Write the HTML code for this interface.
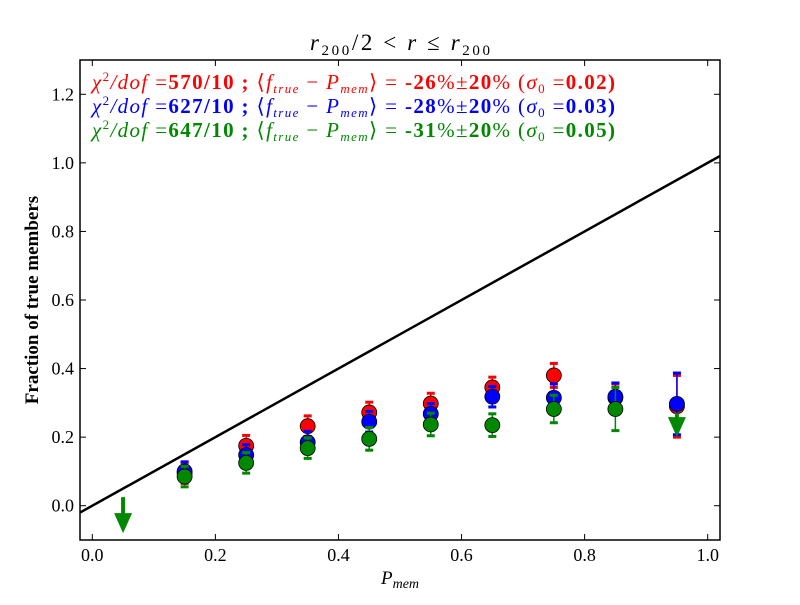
<!DOCTYPE html>
<html><head><meta charset="utf-8"><style>
body{margin:0;background:#fff}
svg text{font-family:"Liberation Serif",serif}
</style></head><body>
<svg id="chart" width="800" height="600" xmlns="http://www.w3.org/2000/svg">
<rect width="800" height="600" fill="#fff"/>
<g id="marks"></g>
<rect x="80" y="60" width="640" height="480" fill="none" stroke="#000" stroke-width="1.5"/>
<g id="ticks"></g>
<text x="400" y="50" font-size="23" text-anchor="middle" font-style="italic" textLength="180" lengthAdjust="spacing">r<tspan font-size="15" dy="5" font-style="normal">200</tspan><tspan dy="-5" font-style="normal">/2 &lt; </tspan>r<tspan font-style="normal"> ≤ </tspan>r<tspan font-size="15" dy="5" font-style="normal">200</tspan></text>
<text x="400" y="584" font-size="19" text-anchor="middle" font-style="italic">P<tspan font-size="14" dy="4">mem</tspan></text>
<text transform="translate(38,300) rotate(-90)" font-size="19" font-weight="bold" text-anchor="middle">Fraction of true members</text>
<g font-size="21">
<text x="92" y="89" fill="#f00" textLength="523" lengthAdjust="spacing"><tspan font-style="italic">χ</tspan><tspan font-size="13" dy="-8">2</tspan><tspan dy="8" font-style="italic">/dof</tspan> =<tspan font-weight="bold">570/10 ;</tspan> ⟨<tspan font-style="italic">f</tspan><tspan font-size="13" dy="4" font-style="italic">true</tspan><tspan dy="-4"> − </tspan><tspan font-style="italic">P</tspan><tspan font-size="13" dy="4" font-style="italic">mem</tspan><tspan dy="-4">⟩ = </tspan><tspan font-weight="bold">-26</tspan>%±<tspan font-weight="bold">20</tspan>% (<tspan font-style="italic">σ</tspan><tspan font-size="13" dy="4">0</tspan><tspan dy="-4"> =</tspan><tspan font-weight="bold">0.02)</tspan></text>
<text x="92" y="113" fill="#00f" textLength="523" lengthAdjust="spacing"><tspan font-style="italic">χ</tspan><tspan font-size="13" dy="-8">2</tspan><tspan dy="8" font-style="italic">/dof</tspan> =<tspan font-weight="bold">627/10 ;</tspan> ⟨<tspan font-style="italic">f</tspan><tspan font-size="13" dy="4" font-style="italic">true</tspan><tspan dy="-4"> − </tspan><tspan font-style="italic">P</tspan><tspan font-size="13" dy="4" font-style="italic">mem</tspan><tspan dy="-4">⟩ = </tspan><tspan font-weight="bold">-28</tspan>%±<tspan font-weight="bold">20</tspan>% (<tspan font-style="italic">σ</tspan><tspan font-size="13" dy="4">0</tspan><tspan dy="-4"> =</tspan><tspan font-weight="bold">0.03)</tspan></text>
<text x="92" y="137" fill="#080" textLength="523" lengthAdjust="spacing"><tspan font-style="italic">χ</tspan><tspan font-size="13" dy="-8">2</tspan><tspan dy="8" font-style="italic">/dof</tspan> =<tspan font-weight="bold">647/10 ;</tspan> ⟨<tspan font-style="italic">f</tspan><tspan font-size="13" dy="4" font-style="italic">true</tspan><tspan dy="-4"> − </tspan><tspan font-style="italic">P</tspan><tspan font-size="13" dy="4" font-style="italic">mem</tspan><tspan dy="-4">⟩ = </tspan><tspan font-weight="bold">-31</tspan>%±<tspan font-weight="bold">20</tspan>% (<tspan font-style="italic">σ</tspan><tspan font-size="13" dy="4">0</tspan><tspan dy="-4"> =</tspan><tspan font-weight="bold">0.05)</tspan></text>
</g>
</svg>
<script>
const xCats=[0.15,0.25,0.35,0.45,0.55,0.65,0.75,0.85,0.95];
const redVals=[0.095,0.175,0.232,0.272,0.298,0.345,0.38,0.315,0.29];
const redErr=[0.03,0.03,0.03,0.03,0.03,0.03,0.035,0.04,0.09];
const blueVals=[0.10,0.148,0.185,0.245,0.268,0.318,0.315,0.318,0.297];
const blueErr=[0.028,0.03,0.032,0.03,0.03,0.03,0.04,0.04,0.09];
const greenVals=[0.085,0.125,0.168,0.195,0.237,0.235,0.282,0.282];
const greenErr=[0.03,0.03,0.03,0.033,0.033,0.033,0.04,0.063];
const arrowX=[0.05,0.95];
const arrowTop=[0.025,0.27];
const arrowBottom=[-0.08,0.2];
const xTicks=[0.0,0.2,0.4,0.6,0.8,1.0];
const yTicks=[0.0,0.2,0.4,0.6,0.8,1.0,1.2];
const X0=-0.02,X1=1.02,Y0=-0.1,Y1=1.3;
const sx=v=>80+(v-X0)/(X1-X0)*640;
const sy=v=>540-(v-Y0)/(Y1-Y0)*480;
const NS='http://www.w3.org/2000/svg';
const marks=document.getElementById('marks'),ticks=document.getElementById('ticks');
function mk(tag,at,parent){const e=document.createElementNS(NS,tag);for(const k in at)e.setAttribute(k,at[k]);parent.appendChild(e);return e;}
const ln=mk('line',{x1:sx(X0),y1:sy(X0),x2:sx(X1),y2:sy(X1),stroke:'#000','stroke-width':2.5},marks);


function series(vals,errs,col,name){
  vals.forEach((v,i)=>{
    const x=sx(xCats[i]);
    const g=mk('g',{},marks);
    
    
    mk('line',{x1:x,x2:x,y1:sy(v-errs[i]),y2:sy(v+errs[i]),stroke:col,'stroke-width':1.5},g);
    [v-errs[i],v+errs[i]].forEach(e=>mk('line',{x1:x-4,x2:x+4,y1:sy(e),y2:sy(e),stroke:col,'stroke-width':3},g));
    mk('circle',{cx:x,cy:sy(v),r:7.5,fill:col,stroke:'#000','stroke-width':0.8},g);
  });
}
series(redVals,redErr,'#f00','red');
series(blueVals,blueErr,'#00f','blue');
series(greenVals,greenErr,'#080','green');
arrowX.forEach((a,i)=>{
  const x=sx(a),t=sy(arrowTop[i]),b=sy(arrowBottom[i]);
  const g=mk('g',{},marks);
  
  
  mk('line',{x1:x,x2:x,y1:t,y2:b-18,stroke:'#080','stroke-width':4},g);
  mk('polygon',{points:`${x-9},${b-20} ${x+9},${b-20} ${x},${b}`,fill:'#080'},g);
});
xTicks.forEach(v=>{
  const x=sx(v);
  mk('line',{x1:x,x2:x,y1:540,y2:534,stroke:'#000'},ticks);
  mk('line',{x1:x,x2:x,y1:60,y2:66,stroke:'#000'},ticks);
  const t=mk('text',{x:x,y:561,'font-size':18,'text-anchor':'middle'},ticks);
  t.textContent=v.toFixed(1);
  
  
});
yTicks.forEach(v=>{
  const y=sy(v);
  mk('line',{x1:80,x2:86,y1:y,y2:y,stroke:'#000'},ticks);
  mk('line',{x1:720,x2:714,y1:y,y2:y,stroke:'#000'},ticks);
  const t=mk('text',{x:74,y:y+6,'font-size':18,'text-anchor':'end'},ticks);
  t.textContent=v.toFixed(1);
  
  
});
</script>
</body></html>
